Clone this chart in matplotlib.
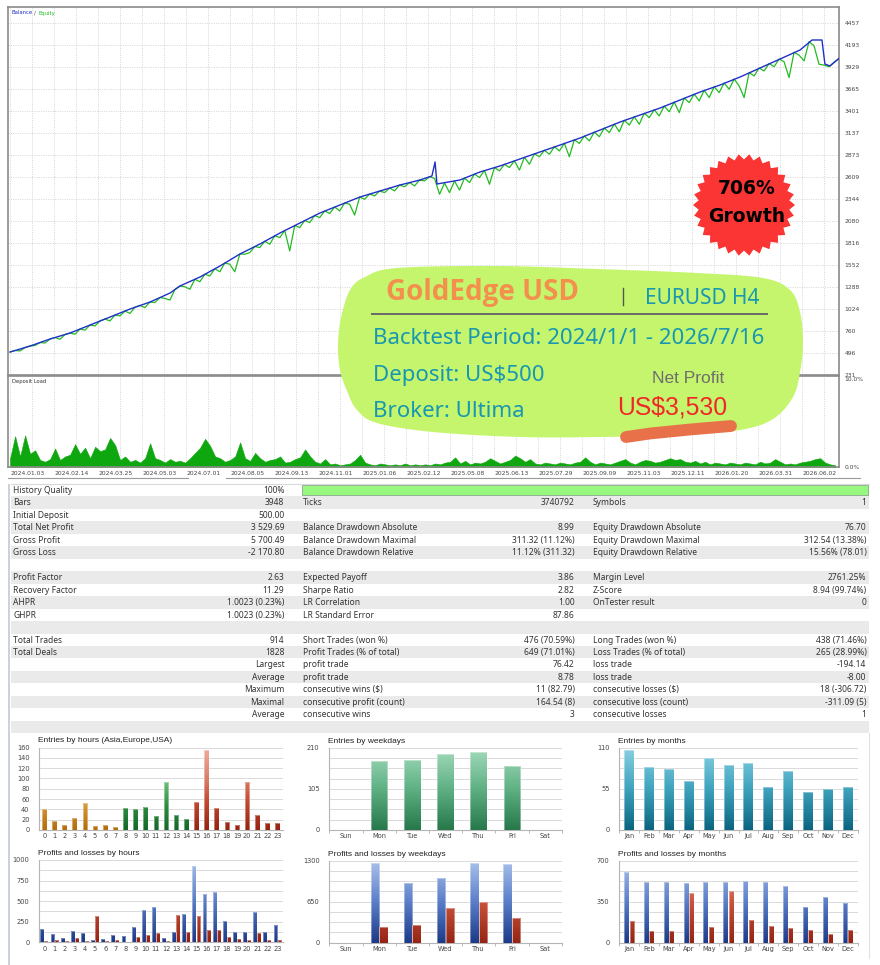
import numpy as np
import matplotlib
matplotlib.use("Agg")
import matplotlib.pyplot as plt
from matplotlib.patches import Rectangle, Polygon
from matplotlib.colors import LinearSegmentedColormap

# ---------------- data ----------------
TOTAL_BARS = 3948
balance_bar = [10, 105, 200, 295, 390, 485, 580, 675, 770, 817, 912, 1007, 1102, 1197, 1292,
               1387, 1482, 1577, 1672, 1767, 1862, 1957, 2014, 2029, 2038, 2147, 2242, 2337,
               2432, 2527, 2623, 2718, 2813, 2908, 3003, 3098, 3193, 3288, 3383, 3478, 3573,
               3668, 3763, 3820, 3867, 3881, 3905, 3948]
balance = [507, 579, 663, 735, 831, 927, 1023, 1107, 1215, 1299, 1407, 1539, 1683, 1803, 1935,
           2055, 2175, 2271, 2367, 2439, 2511, 2571, 2619, 2787, 2523, 2571, 2667, 2739,
           2823, 2907, 2991, 3075, 3171, 3267, 3351, 3435, 3531, 3627, 3711, 3807, 3915,
           4023, 4131, 4251, 4251, 3963, 3939, 4030]
# equity sampled evenly from bar 10 to the last bar
equity = [507, 525, 520, 561, 579, 585, 621, 615, 663, 681, 660, 717, 735, 720, 783, 770,
          831, 820, 879, 903, 880, 951, 940, 999, 970, 1044, 1065, 1040, 1107, 1100, 1161,
          1150, 1130, 1257, 1299, 1290, 1260, 1380, 1350, 1440, 1420, 1506, 1470, 1575, 1560,
          1470, 1683, 1680, 1700, 1773, 1760, 1836, 1800, 1902, 1880, 1965, 1720, 2025, 2000,
          2085, 2060, 2145, 2120, 2199, 2170, 2247, 2200, 2295, 2280, 2150, 2367, 2340, 2403,
          2380, 2439, 2420, 2475, 2440, 2511, 2490, 2541, 2500, 2571, 2560, 2611, 2590, 2400,
          2535, 2420, 2559, 2450, 2595, 2540, 2643, 2600, 2685, 2520, 2721, 2680, 2760, 2720,
          2802, 2690, 2844, 2760, 2886, 2850, 2928, 2880, 2970, 2920, 3012, 2850, 3054, 3010,
          3099, 3040, 3147, 3090, 3195, 3140, 3243, 3150, 3288, 3230, 3330, 3240, 3372, 3320,
          3414, 3340, 3459, 3390, 3507, 3380, 3555, 3500, 3603, 3520, 3648, 3560, 3690, 3620,
          3735, 3660, 3783, 3700, 3560, 3861, 3820, 3915, 3880, 3969, 3930, 4023, 3990, 3800,
          4104, 4070, 4000, 4231, 4180, 3960, 3950, 3930, 3985, 4030]
# deposit load in percent, sampled evenly from bar 10 to bar 3930
deposit_load = [1.0, 3.5, 1.2, 3.6, 1.5, 1.9, 0.8, 0.6, 0.9, 2.1, 0.8, 1.2, 1.4, 2.6, 1.5, 2.2,
                1.0, 2.3, 1.8, 2.0, 3.3, 2.5, 0.8, 1.2, 0.6, 0.8, 0.5, 1.0, 2.7, 1.0, 0.8, 0.5,
                0.9, 0.6, 0.7, 0.5, 1.0, 1.6, 2.2, 3.2, 2.4, 1.2, 1.0, 0.6, 0.8, 1.2, 2.8, 1.0,
                0.7, 1.6, 1.0, 0.6, 0.8, 0.9, 1.2, 0.5, 0.6, 0.9, 1.1, 2.0, 1.2, 0.6, 0.4, 0.9,
                0.3, 0.4, 0.2, 0.3, 0.4, 0.8, 1.4, 0.5, 0.3, 0.2, 0.4, 0.3, 0.2, 0.3, 0.2, 0.4,
                0.2, 0.3, 0.2, 0.3, 0.2, 0.4, 0.3, 0.5, 0.6, 1.1, 0.4, 0.7, 0.3, 0.5, 0.4, 0.6,
                1.0, 0.7, 0.4, 0.6, 0.8, 1.3, 1.0, 0.6, 0.9, 0.4, 0.3, 0.5, 0.4, 0.3, 0.5, 0.4,
                0.3, 0.5, 0.6, 1.1, 0.6, 0.3, 0.5, 0.4, 0.3, 0.5, 0.7, 0.9, 0.5, 0.3, 0.6, 0.8,
                0.7, 0.5, 0.6, 0.8, 1.0, 0.8, 0.9, 0.6, 0.5, 0.7, 0.4, 0.6, 0.3, 0.5, 0.4, 0.3,
                0.5, 0.4, 0.3, 0.5, 0.4, 0.3, 0.6, 0.4, 0.5, 0.9, 0.6, 0.3, 0.4, 0.3, 0.5, 0.6,
                0.7, 0.9, 1.0, 0.5, 0.3, 0.2]
date_labels = ["2024.01.03", "2024.02.14", "2024.03.25", "2024.05.03", "2024.07.01",
               "2024.08.05", "2024.09.13", "2024.11.01", "2025.01.06", "2025.02.12",
               "2025.05.08", "2025.06.13", "2025.07.29", "2025.09.09", "2025.11.03",
               "2025.12.11", "2026.01.20", "2026.03.31", "2026.06.02"]
value_ticks = [231, 496, 760, 1024, 1288, 1552, 1816, 2080, 2344, 2609, 2873, 3137, 3401,
               3665, 3929, 4193, 4457]

hours = list(range(24))
entries_hours = [41, 18, 10, 24, 52, 7, 10, 6, 43, 40, 45, 27, 94, 29, 22, 54, 155, 43, 15,
                 10, 93, 30, 13, 14]
profit_hours = [158, 97, 53, 138, 117, 32, 36, 93, 81, 182, 393, 433, 49, 126, 344, 931, 587,
                607, 263, 121, 121, 372, 121, 206]
loss_hours = [16, 28, 16, 49, 20, 316, 16, 28, 8, 65, 85, 117, 12, 328, 130, 316, 154, 146,
              61, 36, 32, 109, 28, 32]
weekdays = ["Sun", "Mon", "Tue", "Wed", "Thu", "Fri", "Sat"]
entries_weekdays = [0, 177, 179, 193, 200, 163, 0]
profit_weekdays = [0, 1268, 951, 1031, 1268, 1242, 0]
loss_weekdays = [0, 254, 285, 550, 645, 391, 0]
months = ["Jan", "Feb", "Mar", "Apr", "May", "Jun", "Jul", "Aug", "Sep", "Oct", "Nov", "Dec"]
entries_months = [107, 84, 82, 65, 96, 87, 90, 57, 79, 51, 55, 57]
profit_months = [606, 515, 515, 512, 521, 518, 529, 515, 484, 304, 390, 341]
loss_months = [185, 102, 100, 424, 134, 441, 194, 142, 128, 108, 71, 108]

table_rows = [
    ("History Quality", "100%", "", "", "", ""),
    ("Bars", "3948", "Ticks", "3740792", "Symbols", "1"),
    ("Initial Deposit", "500.00", "", "", "", ""),
    ("Total Net Profit", "3 529.69", "Balance Drawdown Absolute", "8.99", "Equity Drawdown Absolute", "76.70"),
    ("Gross Profit", "5 700.49", "Balance Drawdown Maximal", "311.32 (11.12%)", "Equity Drawdown Maximal", "312.54 (13.38%)"),
    ("Gross Loss", "-2 170.80", "Balance Drawdown Relative", "11.12% (311.32)", "Equity Drawdown Relative", "15.56% (78.01)"),
    ("", "", "", "", "", ""),
    ("Profit Factor", "2.63", "Expected Payoff", "3.86", "Margin Level", "2761.25%"),
    ("Recovery Factor", "11.29", "Sharpe Ratio", "2.82", "Z-Score", "8.94 (99.74%)"),
    ("AHPR", "1.0023 (0.23%)", "LR Correlation", "1.00", "OnTester result", "0"),
    ("GHPR", "1.0023 (0.23%)", "LR Standard Error", "87.86", "", ""),
    ("", "", "", "", "", ""),
    ("Total Trades", "914", "Short Trades (won %)", "476 (70.59%)", "Long Trades (won %)", "438 (71.46%)"),
    ("Total Deals", "1828", "Profit Trades (% of total)", "649 (71.01%)", "Loss Trades (% of total)", "265 (28.99%)"),
    ("", "Largest", "profit trade", "76.42", "loss trade", "-194.14"),
    ("", "Average", "profit trade", "8.78", "loss trade", "-8.00"),
    ("", "Maximum", "consecutive wins ($)", "11 (82.79)", "consecutive losses ($)", "18 (-306.72)"),
    ("", "Maximal", "consecutive profit (count)", "164.54 (8)", "consecutive loss (count)", "-311.09 (5)"),
    ("", "Average", "consecutive wins", "3", "consecutive losses", "1"),
    ("", "", "", "", "", ""),
]

# ---------------- figure ----------------
W, H = 880, 965
fig = plt.figure(figsize=(W / 100, H / 100), dpi=100)
fig.patch.set_facecolor("white")


def px_axes(x0, y0, x1, y1, **kw):
    return fig.add_axes([x0 / W, 1 - y1 / H, (x1 - x0) / W, (y1 - y0) / H], **kw)


BPP = TOTAL_BARS / 831.0          # bars per pixel column
xgrid = (1.7 + 22 * np.arange(38)) * BPP
date_pos = (1.7 + 44 * np.arange(len(date_labels))) * BPP + 0.8 * BPP
FRAME = "#8a8a8a"
GRID = dict(color="#cfcfcf", lw=0.6, ls=(0, (1.2, 1.6)))

# main balance / equity panel
ax = px_axes(8, 7, 839, 375)
ax.set_xlim(0, TOTAL_BARS)
ax.set_ylim(231, 231 + 368 * 12)
ax.set_xticks(xgrid)
ax.set_xticklabels([])
ax.set_yticks(value_ticks)
ax.set_yticklabels([str(v) for v in value_ticks])
ax.yaxis.tick_right()
ax.tick_params(axis="both", length=0, labelsize=4.3, labelcolor="#444444", pad=4)
ax.grid(True, **GRID)
eq_bar = np.linspace(10, TOTAL_BARS, len(equity))
ax.plot(eq_bar, equity, color="#22bb22", lw=0.9, zorder=2)
ax.plot(balance_bar, balance, color="#2030c8", lw=1.0, zorder=3)
for s in ax.spines.values():
    s.set_color(FRAME)
    s.set_linewidth(1.2)

# deposit load panel
ax2 = px_axes(8, 376, 839, 467)
ax2.set_xlim(0, TOTAL_BARS)
ax2.set_ylim(0, 10.34)
load_bar = np.linspace(10, 3930, len(deposit_load))
ax2.fill_between(load_bar, deposit_load, 0, color="#0fa70f", lw=0.4, zorder=2)
ax2.set_xticks(date_pos, date_labels, ha="left")
ax2.set_xticks(xgrid, minor=True)
ax2.grid(True, which="minor", axis="x", **GRID)
ax2.set_yticks([0, 10])
ax2.set_yticklabels(["0.0%", "10.0%"])
ax2.yaxis.tick_right()
ax2.tick_params(axis="both", which="both", length=0, labelsize=4.3, labelcolor="#444444", pad=3)
ax2.tick_params(axis="y", pad=4)
for s in ax2.spines.values():
    s.set_color(FRAME)
    s.set_linewidth(1.2)

# ---------------- overlay (pixel coordinates) ----------------
ov = fig.add_axes([0, 0, 1, 1], zorder=5)
ov.set_xlim(0, W)
ov.set_ylim(H, 0)
ov.axis("off")
ov.patch.set_alpha(0)

lk = dict(fontsize=3.8, va="center", family="DejaVu Sans")
ov.text(11.5, 13, "Balance", color="#2030c8", **lk)
ov.text(33.8, 13, "/", color="#444444", **lk)
ov.text(38.5, 13, "Equity", color="#22bb22", **lk)
ov.text(11.5, 381.5, "Deposit Load", color="#333333", **lk)
ov.plot([8, 188], [477.5, 477.5], color="#9a9a9a", lw=0.8)
ov.plot([226, 860], [477.5, 477.5], color="#9a9a9a", lw=0.8)


def catmull(pts, n=14):
    P = np.array(pts, float)
    N = len(P)
    out = []
    t = np.linspace(0, 1, n, endpoint=False)[:, None]
    for i in range(N):
        p0, p1, p2, p3 = P[i - 1], P[i], P[(i + 1) % N], P[(i + 2) % N]
        out.append(0.5 * (2 * p1 + (-p0 + p2) * t + (2 * p0 - 5 * p1 + 4 * p2 - p3) * t ** 2
                          + (-p0 + 3 * p1 - 3 * p2 + p3) * t ** 3))
    return np.vstack(out)


blob_pts = [(350, 290), (365, 277), (397, 268), (497, 266), (597, 269), (697, 273), (763, 278),
            (790, 290), (800, 312), (803, 343), (800, 372), (793, 397), (773, 419), (740, 430),
            (680, 435), (600, 437), (520, 437), (433, 432), (377, 423), (357, 410), (347, 391),
            (340, 370), (338, 345), (341, 318)]
ov.add_patch(Polygon(catmull(blob_pts), closed=True, fc="#c4f56c", ec="none", zorder=1))

TEAL = "#1797b2"
ov.text(386, 300, "GoldEdge USD", color="#f4904e", fontsize=20, weight="bold",
        family=["Open Sans", "Roboto", "DejaVu Sans"], va="baseline", zorder=3)
ov.plot([623, 623], [288, 305], color="#555555", lw=1.0, zorder=3)
ov.text(645, 304, "EURUSD H4", color=TEAL, fontsize=15, family="Noto Sans", va="baseline", zorder=3)
ov.plot([372, 767], [314.3, 314.3], color="#6a6a6a", lw=1.4, zorder=3)
ov.text(373, 344, "Backtest Period: 2024/1/1 - 2026/7/16", color=TEAL, fontsize=16,
        family="Noto Sans", va="baseline", zorder=3)
ov.text(373, 380.7, "Deposit: US$500", color=TEAL, fontsize=16, family="Noto Sans",
        va="baseline", zorder=3)
ov.text(373, 416.7, "Broker: Ultima", color=TEAL, fontsize=16, family="Noto Sans",
        va="baseline", zorder=3)
ov.text(652, 383.3, "Net Profit", color="#6e6e6e", fontsize=12.5, family="Liberation Sans",
        va="baseline", zorder=3)
ov.text(617, 414, "US$3,530", color="#f02828", fontsize=17.8, family="Liberation Sans",
        va="baseline", zorder=3)
ov.plot([626, 650, 690, 731], [437, 433.5, 429.5, 426], color="#e8714a", lw=8.5,
        solid_capstyle="round", zorder=3)

# starburst
nsp = 30
ang = np.arange(2 * nsp) * np.pi / nsp
rad = np.where(np.arange(2 * nsp) % 2 == 0, 51, 45.5)
star = np.column_stack([744 + rad * np.cos(ang), 205 + rad * np.sin(ang)])
ov.add_patch(Polygon(star, closed=True, fc="#fb3434", ec="none", zorder=2))
ov.text(746.5, 189, "706%", fontsize=13.5, weight="bold", family="DejaVu Sans",
        ha="center", va="center", color="black", zorder=3)
ov.text(746.5, 216.5, "Growth", fontsize=13.5, weight="bold", family="DejaVu Sans",
        ha="center", va="center", color="black", zorder=3)

# ---------------- statistics table ----------------
ROW0, PITCH = 484.0, 12.46
ov.add_patch(Rectangle((8, 484), 2.2, H - 484, fc="#ccd2dc", ec="none", zorder=1))
for i, row in enumerate(table_rows):
    yt = ROW0 + i * PITCH
    ov.add_patch(Rectangle((10.5, yt), 858, PITCH, fc="#eaeaea" if i % 2 else "#ffffff",
                           ec="none", zorder=1))
    yc = yt + PITCH / 2 + 0.3
    tk = dict(fontsize=6.1, family="Noto Sans", color="#333333", va="center", zorder=3)
    ov.text(13, yc, row[0], ha="left", **tk)
    ov.text(284.5, yc, row[1], ha="right", **tk)
    ov.text(303, yc, row[2], ha="left", **tk)
    ov.text(574.5, yc, row[3], ha="right", **tk)
    ov.text(593, yc, row[4], ha="left", **tk)
    ov.text(866.5, yc, row[5], ha="right", **tk)
ov.add_patch(Rectangle((302, 484.8), 566, 10.6, fc="#98f77e", ec="#8aa88a", lw=0.6, zorder=2))
ov.plot([10.5, 868.5], [484, 484], color="#d8d8d8", lw=0.8, zorder=2)
ov.plot([868.5, 868.5], [733, 958], color="#e0e0e0", lw=0.8, zorder=2)

# ---------------- small charts ----------------


def small_axes(box, ncat, ymax, ylab_ticks, step, title, labels, seps=False):
    a = px_axes(*box)
    a.set_xlim(-0.5, ncat - 0.5)
    a.set_ylim(0, ymax)
    for g in np.arange(0, ymax + step / 2, step):
        a.axhline(g, color="#dadada", lw=0.7, zorder=1)
    a.set_yticks(ylab_ticks)
    a.set_yticklabels([str(v) for v in ylab_ticks])
    a.set_xticks(range(ncat))
    a.set_xticklabels(labels)
    a.tick_params(axis="both", length=0, labelsize=4.8, labelcolor="#444444", pad=2.5)
    a.tick_params(axis="y", pad=7)
    if seps:
        a.set_xticks(np.arange(-0.5, ncat), minor=True)
        a.tick_params(axis="x", which="minor", length=2.5, color="#b0b0b0", width=0.6)
    for k in ("top", "right"):
        a.spines[k].set_visible(False)
    for k in ("left", "bottom"):
        a.spines[k].set_color("#b5b5b5")
        a.spines[k].set_linewidth(0.8)
    x0, y0 = box[0], box[1]
    ov.text(x0 - 1, y0 - 6.5, title, fontsize=6.0, family="Liberation Sans", color="#222222",
            va="center", ha="left", zorder=3)
    return a


def gbars(a, xs, hs, width, stops, ymax, offset=0.0, edge="#ffffff"):
    cmap = LinearSegmentedColormap.from_list("c", stops)
    bars = a.bar(np.asarray(xs, float) + offset, hs, width=width, color=stops[0][1], lw=0,
                 zorder=3)
    for rect, h in zip(bars, hs):
        if h <= 0:
            continue
        bx, bw = rect.get_x(), rect.get_width()
        g = np.linspace(0, h / ymax, 64).reshape(-1, 1)
        im = a.imshow(g, extent=(bx, bx + bw, 0, h), origin="lower", cmap=cmap, vmin=0, vmax=1,
                      aspect="auto", interpolation="bilinear", zorder=3.5)
        im.set_clip_path(rect)
        a.add_patch(Rectangle((bx, 0), bw, h, fill=False, ec=edge, lw=0.5, alpha=0.55, zorder=4))
    return bars


ORANGE = [(0, "#b66c0a"), (0.35, "#dba042"), (1, "#f8dcb0")]
GREEN = [(0, "#13682a"), (0.3, "#2e8f40"), (0.6, "#74c27e"), (1, "#c2e9c6")]
RED = [(0, "#942411"), (0.35, "#c44a32"), (0.6, "#d97a66"), (1, "#f1ab9d")]
WGREEN = [(0, "#27784a"), (0.5, "#5fb184"), (1, "#a4dbbc")]
TEALC = [(0, "#0b6580"), (0.5, "#3fa3be"), (1, "#8ad1e2")]
BLUE = [(0, "#1c3a88"), (0.5, "#5a7ec8"), (1, "#a9c0ea")]
LRED = [(0, "#952414"), (0.5, "#c9543c"), (1, "#f2a690")]

# entries by hours
a1 = small_axes((39.3, 747.5, 282.6, 830), 24, 160, list(range(0, 161, 20)), 20,
                "Entries by hours (Asia,Europe,USA)", [str(h) for h in hours])
gbars(a1, hours[:8], entries_hours[:8], 0.46, ORANGE, 160)
gbars(a1, hours[8:15], entries_hours[8:15], 0.46, GREEN, 160)
gbars(a1, hours[15:], entries_hours[15:], 0.46, RED, 160)
a1.set_xlim(-0.5, 23.5)
a1.set_ylim(0, 160)

# profits and losses by hours
a2 = small_axes((39.3, 860, 282.6, 942.3), 24, 1000, [0, 250, 500, 750, 1000], 125,
                "Profits and losses by hours", [str(h) for h in hours])
gbars(a2, hours, profit_hours, 0.38, BLUE, 1000, offset=-0.2)
gbars(a2, hours, loss_hours, 0.38, LRED, 1000, offset=0.2)
a2.set_xlim(-0.5, 23.5)
a2.set_ylim(0, 1000)

# entries by weekdays
a3 = small_axes((329.3, 747.7, 561.7, 830), 7, 210, [0, 105, 210], 26.25,
                "Entries by weekdays", weekdays, seps=True)
gbars(a3, range(7), entries_weekdays, 0.5, WGREEN, 210)
a3.set_xlim(-0.5, 6.5)
a3.set_ylim(0, 210)

# profits and losses by weekdays
a4 = small_axes((329.3, 860.7, 561.7, 942.7), 7, 1300, [0, 650, 1300], 162.5,
                "Profits and losses by weekdays", weekdays, seps=True)
gbars(a4, range(7), profit_weekdays, 0.25, BLUE, 1300, offset=-0.13)
gbars(a4, range(7), loss_weekdays, 0.25, LRED, 1300, offset=0.13)
a4.set_xlim(-0.5, 6.5)
a4.set_ylim(0, 1300)

# entries by months
a5 = small_axes((619.3, 747.7, 857.7, 830), 12, 110, [0, 55, 110], 13.75,
                "Entries by months", months, seps=True)
gbars(a5, range(12), entries_months, 0.5, TEALC, 110)
a5.set_xlim(-0.5, 11.5)
a5.set_ylim(0, 110)

# profits and losses by months
a6 = small_axes((619.3, 860.7, 857.7, 942.7), 12, 700, [0, 350, 700], 87.5,
                "Profits and losses by months", months, seps=True)
gbars(a6, range(12), profit_months, 0.25, BLUE, 700, offset=-0.14)
gbars(a6, range(12), loss_months, 0.25, LRED, 700, offset=0.14)
a6.set_xlim(-0.5, 11.5)
a6.set_ylim(0, 700)

fig.savefig("out.png", dpi=100, facecolor="white")
